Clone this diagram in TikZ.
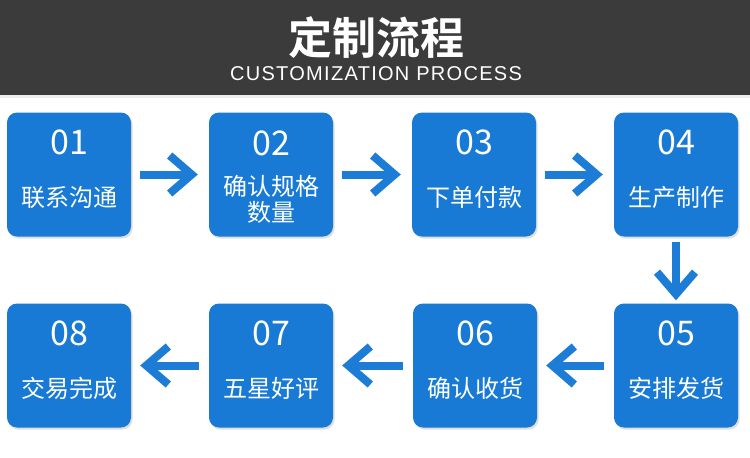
\documentclass[tikz,border=0pt]{standalone}
\usepackage{fontspec}
\setmainfont{Noto Sans CJK SC}
\newfontfamily\titlefont[BoldFont={* Bold}]{Noto Sans CJK SC}
\newfontfamily\latinfont[LetterSpace=6.5]{Liberation Sans}
\usetikzlibrary{arrows.meta,shadows,calc}
\definecolor{bannergray}{RGB}{59,59,59}
\definecolor{boxblue}{RGB}{24,122,212}
\definecolor{arrowblue}{RGB}{28,124,214}
\tikzset{
  stepbox/.style={draw=none, fill=boxblue, rounded corners=10pt,
    minimum width=124pt, minimum height=124pt, inner sep=0pt,
    drop shadow={opacity=0.25, shadow xshift=1.5pt, shadow yshift=-2pt}},
  numtext/.style={text=white, font=\fontsize{34}{36}\selectfont, inner sep=0pt},
  labtext/.style={text=white, font=\fontsize{24}{26}\selectfont, inner sep=0pt, align=center},
  flowarrow/.style={draw=arrowblue, line width=8pt,
    -{Straight Barb[length=22pt,width=38pt]}},
}
\begin{document}
\begin{tikzpicture}[x=1pt,y=-1pt]
\useasboundingbox (0,0) rectangle (750,458);
\fill[white] (0,0) rectangle (750,458);
\fill[bannergray] (0,0) rectangle (750,95);
\fill[black!7] (0,95) rectangle (750,98);
\node[text=white, inner sep=0pt, font=\titlefont\bfseries\fontsize{44}{46}\selectfont] (title) at (376,38) {定制流程};
\node[text=white, inner sep=0pt, font=\latinfont\fontsize{20}{22}\selectfont] (sub) at (376,74) {CUSTOMIZATION PROCESS};

% row 1
\node[stepbox] (b1) at (69,174.5) {};
\node[stepbox] (b2) at (271,174.5) {};
\node[stepbox] (b3) at (474,174.5) {};
\node[stepbox] (b4) at (676,174.5) {};
% row 2
\node[stepbox] (b5) at (676,365.5) {};
\node[stepbox] (b6) at (475,365.5) {};
\node[stepbox] (b7) at (271,365.5) {};
\node[stepbox] (b8) at (69,365.5) {};

\node[numtext] (n1) at ($(b1.center)+(0,-32)$) {01};
\node[labtext] (t1) at ($(b1.center)+(0,23)$) {联系沟通};
\node[numtext] (n2) at ($(b2.center)+(0,-31)$) {02};
\node[labtext] (t2a) at ($(b2.center)+(0,12)$) {确认规格};
\node[labtext] (t2b) at ($(b2.center)+(0,38)$) {数量};
\node[numtext] (n3) at ($(b3.center)+(0,-32)$) {03};
\node[labtext] (t3) at ($(b3.center)+(0,23)$) {下单付款};
\node[numtext] (n4) at ($(b4.center)+(0,-32)$) {04};
\node[labtext] (t4) at ($(b4.center)+(0,23)$) {生产制作};
\node[numtext] (n5) at ($(b5.center)+(0,-32)$) {05};
\node[labtext] (t5) at ($(b5.center)+(0,23)$) {安排发货};
\node[numtext] (n6) at ($(b6.center)+(0,-32)$) {06};
\node[labtext] (t6) at ($(b6.center)+(0,23)$) {确认收货};
\node[numtext] (n7) at ($(b7.center)+(0,-32)$) {07};
\node[labtext] (t7) at ($(b7.center)+(0,23)$) {五星好评};
\node[numtext] (n8) at ($(b8.center)+(0,-32)$) {08};
\node[labtext] (t8) at ($(b8.center)+(0,23)$) {交易完成};

\draw[flowarrow, shorten <=9pt, shorten >=11pt] (b1) -- (b2);
\draw[flowarrow, shorten <=9pt, shorten >=11pt] (b2) -- (b3);
\draw[flowarrow, shorten <=9pt, shorten >=11pt] (b3) -- (b4);
\draw[flowarrow, shorten <=5pt, shorten >=3pt] (b4) -- (b5);
\draw[flowarrow, shorten <=10pt, shorten >=9pt] (b5) -- (b6);
\draw[flowarrow, shorten <=10pt, shorten >=9pt] (b6) -- (b7);
\draw[flowarrow, shorten <=10pt, shorten >=9pt] (b7) -- (b8);
\end{tikzpicture}
\end{document}
